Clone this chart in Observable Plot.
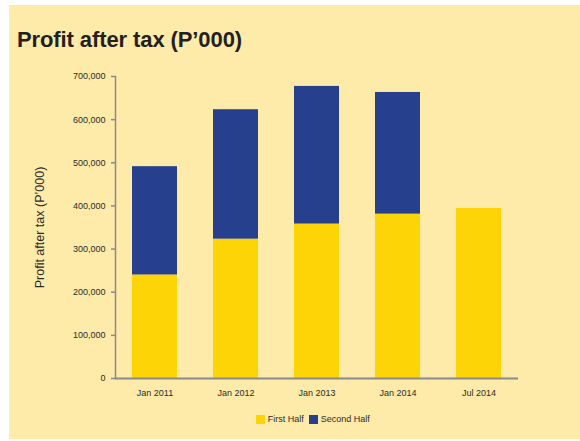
<!DOCTYPE html>
<html>
<head>
<meta charset="utf-8">
<script src="https://cdn.jsdelivr.net/npm/d3@7"></script>
<script src="https://cdn.jsdelivr.net/npm/@observablehq/plot@0.6"></script>
<style>
  html, body { margin: 0; padding: 0; background: #ffffff; }
  #page { position: relative; width: 580px; height: 441px; overflow: hidden; background: #ffffff; }
  #panel { position: absolute; left: 9px; top: 5px; width: 571px; height: 434px; background: #FEEAA9; }
  #title { position: absolute; left: 17px; top: 27px; font-family: "Liberation Sans", Arial, sans-serif; font-weight: bold; font-size: 22px; color: #231f20; letter-spacing: -0.1px; white-space: nowrap; }
  #chart { position: absolute; left: 0; top: 60px; }
  #legend { position: absolute; left: 256px; top: 414px; height: 10px; }
  #legend .lg-swatches { font-family: "Liberation Sans", Arial, sans-serif; font-size: 9px; color: #2b2b2b; min-height: 0; margin: 0; line-height: 10px; }
  #legend .lg-swatch { margin-right: 0.6em; }
  #legend .lg-swatch > svg { margin-right: 0.3em; }
</style>
</head>
<body>
<div id="page">
  <div id="panel"></div>
  <div id="title">Profit after tax (P’000)</div>
  <div id="chart"></div>
  <div id="legend"></div>
</div>
<script>
const periods = ["Jan 2011", "Jan 2012", "Jan 2013", "Jan 2014", "Jul 2014"];
const firstHalf = [240000, 323000, 358000, 381000, 394000];
const secondHalf = [251000, 300000, 319000, 282000, null];
const seriesNames = ["First Half", "Second Half"];
const seriesColors = ["#FDD405", "#26408E"];
const yTicks = [0, 100000, 200000, 300000, 400000, 500000, 600000, 700000];

const rows = [];
periods.forEach((p, i) => {
  if (firstHalf[i] != null) rows.push({period: p, series: seriesNames[0], value: firstHalf[i]});
  if (secondHalf[i] != null) rows.push({period: p, series: seriesNames[1], value: secondHalf[i]});
});

const fmt = d3.format(",");

const chart = Plot.plot({
  width: 580,
  height: 350,
  marginTop: 16,
  marginBottom: 32,
  marginLeft: 115,
  marginRight: 62,
  style: {background: "transparent", fontFamily: "Liberation Sans, Arial, sans-serif", fontSize: "9px", color: "#2b2b2b"},
  x: {domain: periods, paddingInner: 0.44, paddingOuter: 0.19},
  y: {domain: [0, 700000]},
  color: {domain: seriesNames, range: seriesColors},
  marks: [
    Plot.barY(rows, {x: "period", y: "value", fill: "series"}),
    Plot.axisY({ticks: yTicks, tickFormat: fmt, tickSize: 4, tickPadding: 6, stroke: "#8a8a8a", strokeWidth: 1.5, label: null, fontSize: 9}),
    Plot.axisY({ticks: [], label: "Profit after tax (P’000)", labelAnchor: "center", labelArrow: "none", labelOffset: 80, fontSize: 12.5, tickSize: 0}),
    Plot.axisX({tickSize: 0, tickPadding: 11, label: null, fontSize: 9}),
    Plot.frame({anchor: "left", stroke: "#8a8a8a", strokeWidth: 1.5}),
    Plot.ruleY([0], {stroke: "#8a8a8a", strokeWidth: 2})
  ]
});
document.getElementById("chart").appendChild(chart);

const legend = chart.legend("color", {swatchSize: 9, className: "lg"});
document.getElementById("legend").appendChild(legend);
</script>
</body>
</html>
